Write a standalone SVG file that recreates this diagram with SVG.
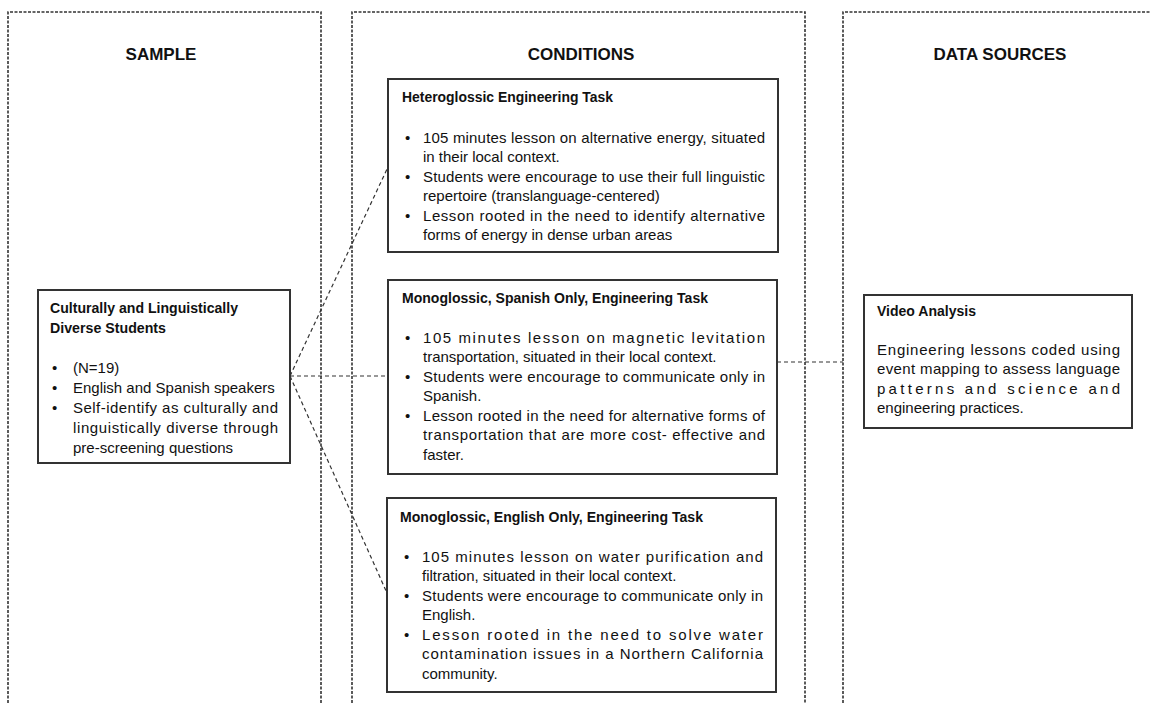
<svg xmlns="http://www.w3.org/2000/svg" width="1151" height="704" viewBox="0 0 1151 704">
  <style>
    .panel { fill: none; stroke: #333; stroke-width: 1.6; stroke-dasharray: 3 1.5; }
    .box { fill: #fff; stroke: #333; stroke-width: 2; }
    .link { fill: none; stroke: #333; stroke-width: 1.2; stroke-dasharray: 4 3; }
    text { font-family: "Liberation Sans", Arial, sans-serif; fill: #111; }
    .head { font-size: 17px; font-weight: bold; text-anchor: middle; }
    .title { font-size: 15px; font-weight: bold; }
    .body { font-size: 15px; }
  </style>
  <rect width="1151" height="704" fill="#fff"/>

  <!-- column frames (open at the bottom) -->
  <g id="panels">
    <path class="panel" d="M8,712 V12 H321 V712"/>
    <path class="panel" d="M352,712 V12 H805 V712"/>
    <path class="panel" d="M843,712 V12 H1160"/>
    <text class="head" x="161" y="60">SAMPLE</text>
    <text class="head" x="581" y="60">CONDITIONS</text>
    <text class="head" x="1000" y="60">DATA SOURCES</text>
  </g>

  <!-- connectors -->
  <g id="connectors">
    <line class="link" x1="290" y1="376" x2="388" y2="167"/>
    <line class="link" x1="290" y1="376" x2="388" y2="376"/>
    <line class="link" x1="290" y1="376" x2="387" y2="593"/>
    <line class="link" x1="777" y1="362" x2="843" y2="362"/>
  </g>

  <g id="sample">
    <rect class="box" x="38" y="290" width="252" height="173"/>
    <text class="title" x="50" y="313" textLength="188" lengthAdjust="spacingAndGlyphs">Culturally and Linguistically</text>
    <text class="title" x="50" y="333" textLength="116" lengthAdjust="spacingAndGlyphs">Diverse Students</text>
    <text class="body" x="52" y="373">•</text>
    <text class="body" x="52" y="393">•</text>
    <text class="body" x="52" y="413">•</text>
    <text class="body" x="73" y="373">(N=19)</text>
    <text class="body" x="73" y="393">English and Spanish speakers</text>
    <text class="body" x="73" y="413" textLength="205">Self-identify as culturally and</text>
    <text class="body" x="73" y="433" textLength="205">linguistically diverse through</text>
    <text class="body" x="73" y="453">pre-screening questions</text>
  </g>

  <g id="heteroglossic">
    <rect class="box" x="388" y="79" width="390" height="173"/>
    <text class="title" x="402" y="102" textLength="211" lengthAdjust="spacingAndGlyphs">Heteroglossic Engineering Task</text>
    <text class="body" x="405" y="143">•</text>
    <text class="body" x="405" y="182">•</text>
    <text class="body" x="405" y="221">•</text>
    <text class="body" x="423" y="143" textLength="342">105 minutes lesson on alternative energy, situated</text>
    <text class="body" x="423" y="162">in their local context.</text>
    <text class="body" x="423" y="182" textLength="342">Students were encourage to use their full linguistic</text>
    <text class="body" x="423" y="201">repertoire (translanguage-centered)</text>
    <text class="body" x="423" y="221" textLength="342">Lesson rooted in the need to identify alternative</text>
    <text class="body" x="423" y="240">forms of energy in dense urban areas</text>
  </g>

  <g id="spanish-only">
    <rect class="box" x="388" y="280" width="389" height="194"/>
    <text class="title" x="402" y="303" textLength="306" lengthAdjust="spacingAndGlyphs">Monoglossic, Spanish Only, Engineering Task</text>
    <text class="body" x="405" y="343">•</text>
    <text class="body" x="405" y="382">•</text>
    <text class="body" x="405" y="421">•</text>
    <text class="body" x="423" y="343" textLength="342">105 minutes lesson on magnetic levitation</text>
    <text class="body" x="423" y="362">transportation, situated in their local context.</text>
    <text class="body" x="423" y="382" textLength="342">Students were encourage to communicate only in</text>
    <text class="body" x="423" y="401">Spanish.</text>
    <text class="body" x="423" y="421" textLength="342">Lesson rooted in the need for alternative forms of</text>
    <text class="body" x="423" y="440" textLength="342">transportation that are more cost- effective and</text>
    <text class="body" x="423" y="460">faster.</text>
  </g>

  <g id="english-only">
    <rect class="box" x="387" y="498" width="389" height="194"/>
    <text class="title" x="400" y="522" textLength="303" lengthAdjust="spacingAndGlyphs">Monoglossic, English Only, Engineering Task</text>
    <text class="body" x="404" y="562">•</text>
    <text class="body" x="404" y="601">•</text>
    <text class="body" x="404" y="640">•</text>
    <text class="body" x="422" y="562" textLength="341">105 minutes lesson on water purification and</text>
    <text class="body" x="422" y="581">filtration, situated in their local context.</text>
    <text class="body" x="422" y="601" textLength="341">Students were encourage to communicate only in</text>
    <text class="body" x="422" y="620">English.</text>
    <text class="body" x="422" y="640" textLength="341">Lesson rooted in the need to solve water</text>
    <text class="body" x="422" y="659" textLength="341">contamination issues in a Northern California</text>
    <text class="body" x="422" y="679">community.</text>
  </g>

  <g id="video-analysis">
    <rect class="box" x="864" y="295" width="268" height="133"/>
    <text class="title" x="877" y="316" textLength="99" lengthAdjust="spacingAndGlyphs">Video Analysis</text>
    <text class="body" x="877" y="355" textLength="243">Engineering lessons coded using</text>
    <text class="body" x="877" y="374" textLength="243">event mapping to assess language</text>
    <text class="body" x="877" y="394" textLength="243">patterns and science and</text>
    <text class="body" x="877" y="413">engineering practices.</text>
  </g>
</svg>
